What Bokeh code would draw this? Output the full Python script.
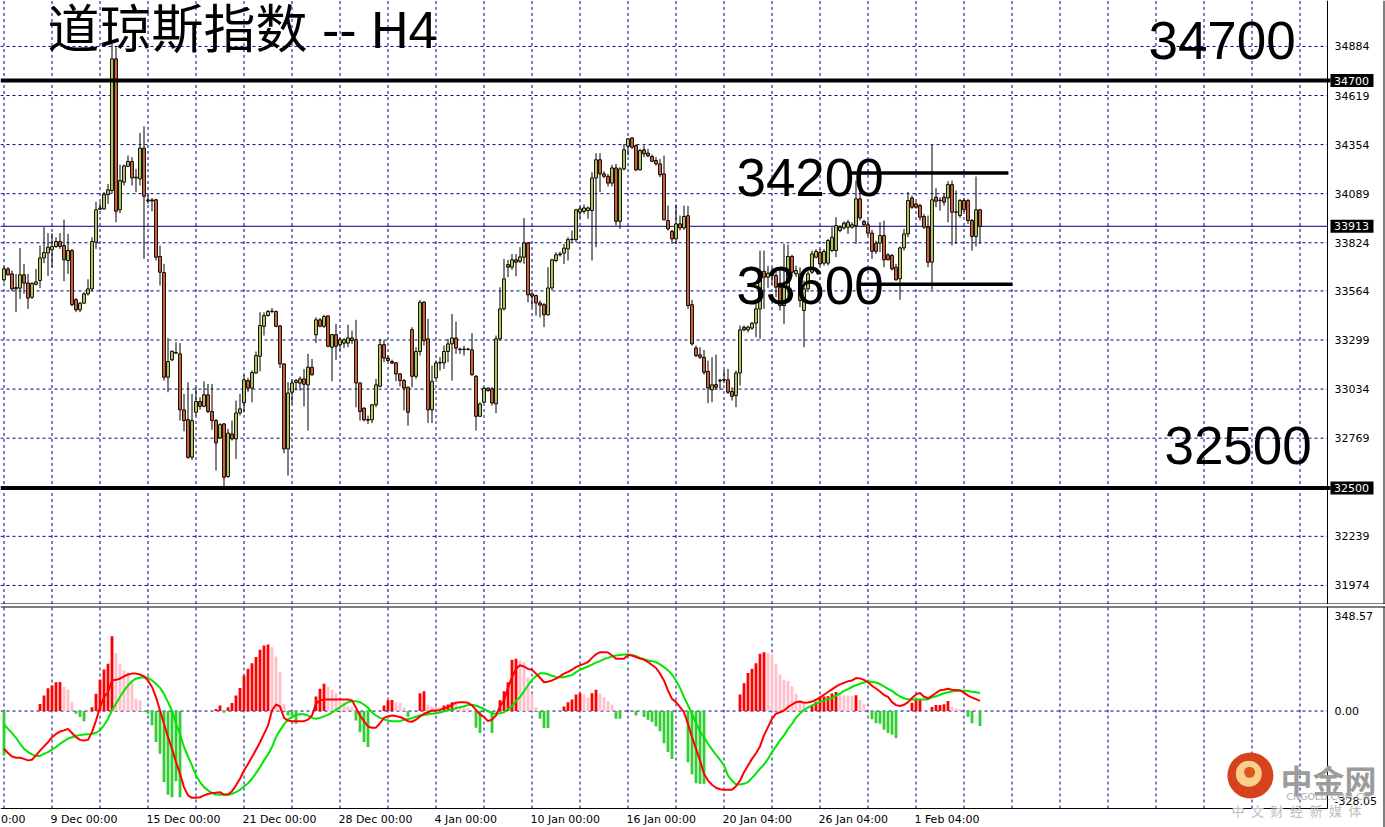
from bokeh.plotting import figure
from bokeh.layouts import column
from bokeh.models import Range1d, Label, ColumnDataSource
from bokeh.core.properties import value
from bokeh.embed import file_html
from bokeh.resources import INLINE

# ---------------- data (H4 bars, Dow Jones) ----------------
opens = [
    33624, 33683, 33656, 33575, 33579, 33651, 33607, 33530, 33600, 33620,
    33742, 33769, 33786, 33804, 33831, 33809, 33728, 33782, 33517, 33462,
    33498, 33548, 33575, 33827, 34005, 34007, 34084, 34106, 34817, 34002,
    34151, 34237, 34263, 34174, 34169, 34335, 34050, 34055, 34056, 33750,
    33663, 33098, 33192, 33228, 33224, 32922, 32869, 32666, 32909, 32967,
    32941, 33003, 32913, 32864, 32770, 32846, 32562, 32792, 32765, 32905,
    32960, 33080, 33039, 33121, 33211, 33373, 33431, 33453, 33453, 33375,
    33170, 32711, 33017, 33070, 33066, 33089, 33057, 33152, 33327, 33408,
    33373, 33429, 33260, 33328, 33273, 33282, 33282, 33310, 33300, 33067,
    32931, 32870, 32868, 32949, 33049, 33274, 33201, 33183, 33176, 33116,
    33080, 33044, 33355, 33103, 33237, 33503, 33305, 32922, 33094, 33175,
    33175, 33237, 33278, 33310, 33250, 33247, 33250, 33246, 33103, 32887,
    32963, 33039, 33035, 32954, 33305, 33467, 33706, 33692, 33732, 33724,
    33746, 33823, 33548, 33539, 33499, 33490, 33435, 33580, 33728, 33759,
    33768, 33791, 33841, 33841, 33989, 33993, 33998, 33998, 34174, 34272,
    34196, 34183, 34146, 34228, 33940, 34223, 34345, 34390, 34349, 34218,
    34326, 34308, 34290, 34268, 34250, 34196, 33944, 33886, 33845, 33926,
    33904, 33970, 33490, 33256, 33219, 33206, 33130, 33030, 33058, 33078,
    33082, 33084, 33021, 32999, 33121, 33368, 33354, 33363, 33390, 33467,
    33670, 33638, 33660, 33647, 33584, 33485, 33584, 33750, 33656, 33656,
    33458, 33575, 33665, 33746, 33773, 33714, 33714, 33782, 33782, 33890,
    33904, 33908, 33908, 33917, 34061, 33939, 33921, 33876, 33822, 33822,
    33863, 33759, 33755, 33692, 33629, 33796, 33872, 34066, 34034, 34025,
    33966, 33908, 33719, 34070, 34052, 34070, 34066, 34138, 33989, 33971,
    34052, 34052, 33944, 33858, 34002,
]
highs = [
    33696, 33692, 33674, 33656, 33796, 33710, 33656, 33611, 33683, 33809,
    33908, 33876, 33876, 33854, 33876, 33949, 33872, 33790, 33525, 33503,
    33557, 33627, 33854, 34045, 34043, 34097, 34142, 34900, 34880, 34246,
    34246, 34295, 34286, 34223, 34417, 34452, 34084, 34066, 34061, 33809,
    33710, 33309, 33242, 33287, 33282, 33008, 33071, 33008, 33044, 32990,
    33076, 33062, 33062, 32873, 32850, 32850, 32819, 32864, 32972, 33008,
    33110, 33094, 33134, 33237, 33449, 33449, 33462, 33472, 33458, 33380,
    33174, 33071, 33084, 33089, 33102, 33143, 33224, 33197, 33422, 33417,
    33435, 33431, 33332, 33386, 33309, 33309, 33382, 33350, 33408, 33070,
    32936, 32891, 32954, 33089, 33305, 33300, 33215, 33193, 33180, 33120,
    33089, 33048, 33368, 33260, 33515, 33510, 33413, 33161, 33188, 33206,
    33269, 33305, 33440, 33399, 33258, 33269, 33256, 33336, 33110, 32963,
    33044, 33044, 33044, 33323, 33584, 33737, 33732, 33764, 33764, 33800,
    33958, 33827, 33557, 33544, 33512, 33498, 33692, 33737, 33773, 33775,
    33818, 33854, 33890, 34007, 34020, 34030, 34020, 34205, 34308, 34308,
    34210, 34196, 34245, 34250, 34232, 34358, 34390, 34394, 34354, 34331,
    34349, 34331, 34300, 34286, 34277, 34295, 34025, 33894, 34030, 33971,
    34025, 34023, 33516, 33269, 33260, 33246, 33188, 33206, 33220, 33089,
    33138, 33143, 33044, 33134, 33377, 33377, 33377, 33395, 33494, 33782,
    33782, 33700, 33690, 33683, 33692, 33818, 33814, 33760, 33700, 33692,
    33620, 33670, 33782, 33790, 33791, 33790, 33845, 33908, 33962, 33917,
    33940, 33948, 33935, 34160, 34106, 33948, 33944, 33894, 33836, 33935,
    33944, 33768, 33764, 33710, 33804, 33899, 34097, 34079, 34043, 34034,
    33980, 33971, 34354, 34120, 34070, 34090, 34156, 34160, 34106, 34061,
    34066, 34061, 33953, 34182, 34007,
]
lows = [
    33611, 33647, 33562, 33449, 33521, 33548, 33467, 33521, 33593, 33580,
    33714, 33645, 33692, 33796, 33791, 33616, 33656, 33481, 33449, 33449,
    33494, 33539, 33562, 33791, 34000, 34003, 34034, 34088, 33935, 33984,
    34133, 34232, 34133, 34097, 34133, 33737, 34034, 33994, 33728, 33593,
    33080, 33017, 33184, 33224, 32864, 32806, 32657, 32652, 32891, 32923,
    32936, 32904, 32814, 32594, 32765, 32504, 32554, 32756, 32657, 32891,
    32909, 33017, 32963, 33116, 33130, 33323, 33426, 33444, 33368, 33148,
    32688, 32567, 32954, 33026, 33026, 32940, 32810, 33107, 33282, 33368,
    33364, 33260, 33076, 33192, 33242, 33255, 33260, 33278, 32936, 32864,
    32860, 32846, 32850, 32936, 33044, 33179, 33183, 33170, 33076, 33048,
    32918, 32837, 33044, 33089, 33215, 33269, 32850, 32850, 33089, 33134,
    33143, 33179, 33080, 33224, 33224, 33215, 33242, 33107, 32810, 32886,
    32959, 33020, 32945, 32904, 33296, 33458, 33638, 33678, 33643, 33714,
    33710, 33503, 33476, 33431, 33422, 33368, 33431, 33566, 33719, 33750,
    33710, 33728, 33827, 33827, 33958, 33980, 33953, 33728, 33800, 34097,
    34173, 34128, 34128, 33917, 33899, 34214, 34295, 34331, 34210, 34214,
    34286, 34286, 34259, 34241, 34178, 33944, 33890, 33818, 33818, 33890,
    33894, 33467, 33269, 33206, 33197, 33112, 32958, 32963, 33030, 33030,
    33066, 33008, 32972, 32936, 33053, 33346, 33340, 33354, 33314, 33305,
    33467, 33580, 33600, 33530, 33458, 33386, 33530, 33640, 33640, 33476,
    33260, 33560, 33656, 33740, 33701, 33700, 33701, 33773, 33746, 33881,
    33895, 33872, 33900, 33818, 33944, 33912, 33863, 33737, 33764, 33773,
    33692, 33728, 33674, 33620, 33516, 33782, 33854, 34007, 34007, 33944,
    33899, 33692, 33571, 34016, 33998, 34025, 33935, 33809, 33818, 33958,
    33990, 33926, 33782, 33804, 33818,
]
closes = [
    33683, 33651, 33575, 33582, 33651, 33606, 33525, 33604, 33613, 33742,
    33771, 33800, 33804, 33831, 33804, 33732, 33782, 33490, 33462, 33498,
    33548, 33575, 33831, 34002, 34011, 34084, 34110, 34817, 33994, 34160,
    34239, 34263, 34174, 34178, 34335, 34075, 34055, 34050, 33746, 33665,
    33098, 33183, 33238, 33232, 32922, 32864, 32666, 32864, 32967, 32941,
    33003, 32913, 32864, 32743, 32842, 32558, 32796, 32765, 32905, 32927,
    33084, 33040, 33123, 33215, 33377, 33431, 33453, 33455, 33373, 33170,
    32711, 33013, 33067, 33080, 33089, 33060, 33152, 33111, 33408, 33373,
    33426, 33265, 33328, 33265, 33300, 33300, 33310, 33296, 33067, 32913,
    32868, 32866, 32949, 33057, 33274, 33201, 33188, 33174, 33116, 33080,
    33040, 32909, 33103, 33237, 33503, 33296, 32922, 33076, 33175, 33178,
    33237, 33278, 33310, 33255, 33247, 33250, 33248, 33111, 32887, 32954,
    33039, 33026, 32959, 33305, 33467, 33629, 33692, 33732, 33719, 33748,
    33823, 33543, 33536, 33499, 33487, 33435, 33580, 33732, 33759, 33764,
    33795, 33841, 33843, 34002, 34007, 34012, 34012, 34174, 34272, 34196,
    34183, 34146, 34228, 33940, 34223, 34326, 34385, 34340, 34218, 34322,
    34304, 34293, 34264, 34250, 34191, 33948, 33899, 33845, 33926, 33904,
    33966, 33485, 33278, 33215, 33206, 33125, 33040, 33057, 33044, 33082,
    33086, 33017, 32995, 33121, 33354, 33354, 33368, 33390, 33467, 33670,
    33638, 33660, 33650, 33584, 33485, 33584, 33750, 33665, 33674, 33512,
    33575, 33656, 33764, 33777, 33710, 33777, 33836, 33854, 33917, 33908,
    33930, 33935, 33921, 34061, 33958, 33921, 33876, 33778, 33778, 33863,
    33732, 33732, 33683, 33624, 33796, 33872, 34052, 34016, 34016, 33962,
    33908, 33719, 34056, 34048, 34054, 34043, 34138, 33989, 33991, 34052,
    34002, 33944, 33858, 34002, 33912,
]

# MACD-style indicator (lower panel)
macd_hist = [
    -150, 0, 0, 0, 0, 0, 0, 0, 0, 24,
    52, 77, 86, 97, 98, 81, 72, 30, -9, -20,
    -34, 0, 13, 58, 105, 140, 159, 252, 195, 159,
    137, 131, 103, 41, 36, -2, -9, -48, -104, -144,
    -239, -282, -290, -236, -290, 0, 0, 0, 0, 0,
    0, 0, 0, 7, 19, -6, 13, 27, 52, 78,
    120, 142, 161, 182, 206, 221, 224, 215, 184, 133,
    24, -15, -15, -43, 0, 0, 0, 0, 49, 75,
    92, 81, 72, 60, 41, 30, 15, 13, -32, -71,
    -104, -121, 0, 0, 0, 19, 36, 37, 30, 28,
    11, -19, 0, 0, 60, 67, 22, 15, 14, 13,
    19, 22, 30, 24, 15, 13, 11, 0, -56, -74,
    0, 0, -74, 0, 36, 67, 97, 173, 176, 170,
    165, 114, 58, 13, -26, -57, -57, 0, 0, 0,
    15, 30, 39, 56, 60, 56, 45, 60, 72, 58,
    47, 33, 22, -26, -26, 0, 2, 0, -15, 0,
    -20, -29, -37, -52, -68, -108, -138, -161, 0, 0,
    0, -172, -213, -243, -245, -245, 0, 0, 0, 0,
    0, 0, 0, 0, 56, 94, 128, 142, 161, 193,
    198, 195, 190, 157, 123, 105, 101, 83, 58, 36,
    25, 0, 17, 31, 48, 49, 50, 59, 64, 63,
    53, 52, 50, 53, 37, 25, 0, -28, -41, -43,
    -63, -74, -80, -91, 0, 0, 0, 28, 37, 37,
    0, 0, 14, 20, 20, 23, 34, 14, 9, 6,
    0, -19, -41, 0, -50,
]
macd_fast = [
    -127, -141, -153, -157, -157, -161, -166, -164, -149, -133,
    -119, -105, -88, -77, -69, -65, -60, -74, -88, -97,
    -99, -97, -71, -32, 13, 47, 64, 103, 105, 109,
    117, 123, 126, 126, 123, 117, 103, 81, 47, 2,
    -43, -88, -127, -172, -211, -256, -284, -292, -292, -290,
    -284, -279, -276, -275, -273, -281, -281, -270, -250, -228,
    -200, -178, -155, -130, -105, -77, -49, 2, 22, 16,
    -23, -32, -34, -34, -34, -34, -29, -15, 25, 36,
    39, 39, 39, 39, 39, 39, 39, 36, 11, -15,
    -34, -52, -56, -56, -41, -23, -18, -15, -17, -20,
    -26, -34, -36, -29, -18, -9, -4, 2, 2, 4,
    9, 13, 22, 28, 30, 30, 28, 19, 4, -11,
    -20, -34, -29, -15, 16, 36, 78, 114, 142, 154,
    150, 142, 139, 126, 112, 97, 99, 103, 109, 117,
    126, 132, 139, 148, 154, 159, 165, 179, 191, 198,
    198, 197, 187, 176, 176, 176, 189, 187, 182, 177,
    173, 165, 155, 145, 126, 103, 69, 41, 30, 13,
    -4, -43, -88, -127, -166, -211, -234, -248, -258, -263,
    -265, -265, -265, -253, -234, -206, -183, -161, -142, -119,
    -82, -54, -26, -9, -4, 2, 13, 22, 30, 32,
    28, 29, 32, 38, 46, 55, 64, 73, 82, 90,
    95, 100, 103, 111, 110, 105, 97, 85, 76, 66,
    54, 48, 30, 20, 17, 21, 30, 44, 56, 61,
    48, 43, 51, 61, 70, 72, 75, 72, 70, 70,
    62, 52, 45, 40, 34,
]
macd_signal = [
    -45, -60, -74, -90, -110, -127, -138, -146, -151, -151,
    -144, -138, -130, -121, -110, -101, -93, -88, -83, -81,
    -79, -78, -77, -73, -65, -48, -26, 2, 25, 47,
    69, 86, 101, 109, 113, 114, 112, 103, 92, 78,
    58, 30, 2, -43, -77, -121, -153, -183, -217, -239,
    -256, -267, -276, -281, -282, -282, -282, -279, -273, -265,
    -254, -243, -228, -209, -189, -166, -146, -121, -88, -65,
    -45, -29, -20, -13, -11, -11, -15, -23, -26, -23,
    -18, -13, -5, 4, 13, 22, 30, 33, 33, 30,
    22, 11, -4, -15, -23, -28, -32, -34, -34, -34,
    -29, -27, -24, -19, -15, -13, -11, -9, -7, -5,
    -1, 2, 5, 10, 13, 16, 20, 21, 18, 13,
    7, 0, -7, -9, -7, -4, 7, 16, 34, 47,
    67, 86, 105, 117, 127, 127, 124, 119, 115, 114,
    114, 118, 121, 131, 139, 145, 150, 156, 163, 168,
    175, 179, 184, 187, 189, 190, 190, 188, 185, 179,
    175, 170, 168, 165, 157, 148, 137, 123, 103, 78,
    47, 19, -9, -41, -68, -88, -110, -129, -147, -164,
    -183, -217, -234, -247, -247, -245, -239, -225, -211, -194,
    -180, -161, -138, -119, -99, -82, -60, -43, -22, -8,
    4, 12, 19, 25, 31, 35, 40, 44, 52, 59,
    68, 74, 81, 87, 92, 96, 100, 98, 96, 91,
    83, 75, 68, 58, 49, 43, 40, 39, 39, 39,
    39, 40, 46, 50, 55, 60, 63, 66, 68, 68,
    68, 68, 65, 63, 61,
]

# axis / tick data
price_grid = [31974, 32239, 32504, 32769, 33034, 33299, 33564, 33824, 34089, 34354, 34619, 34884]
price_labels = [31974, 32239, 32769, 33034, 33299, 33564, 33824, 34089, 34354, 34619, 34884]
marked_prices = [34700, 32500, 33913]
grid_bars = list(range(0, 336, 12))
date_bars = [12, 36, 60, 84, 108, 132, 156, 180, 204, 228]
date_texts = ["9 Dec 00:00", "15 Dec 00:00", "21 Dec 00:00", "28 Dec 00:00",
              "4 Jan 00:00", "10 Jan 00:00", "16 Jan 00:00", "20 Jan 04:00", "26 Jan 04:00",
              "1 Feb 04:00"]
first_date_tail = "0:00"          # tail of the cut-off label at the left edge
macd_top, macd_bottom = 348.57, -328.05
macd_labels = ["348.57", "0.00", "-328.05"]

# drawn support / resistance levels
full_levels = [34700, 32500]
box_levels = [34200, 33600]
box_start = [211.6, 213.6]
box_end = [251.1, 252.1]
level_texts = ["34700", "34200", "33600", "32500"]
level_text_x = [286.1, 183.1, 183.1, 290.1]
level_text_y = [34916, 34176, 33593, 32727]

# ---------------- geometry ----------------
GRID = "#000080"
BULL = "#c4da5e"
BEAR = "#e66a3a"
FONT = "DejaVu Sans"
X0 = -0.875                    # left edge of chart (bar units, 4 px per bar)
AXIS_X = 330.875               # price-scale line
RIGHT_X = 345.0                # window border
X1 = X0 + 1385 / 4.0
PY_TOP, PY_BOT = 35132, 31871  # main panel price range (604 px)
PAN_BOT = 31873.7              # main panel bottom border
M_TOP, M_BOT = 358.67, -391.95 # lower panel value range (223 px)

N = len(opens)
xs = list(range(N))
src = ColumnDataSource(dict(
    x=xs, high=highs, low=lows,
    top=[max(o, c) for o, c in zip(opens, closes)],
    bottom=[min(o, c) for o, c in zip(opens, closes)],
    color=[BULL if c >= o else BEAR for o, c in zip(opens, closes)],
))

xr = Range1d(X0, X1)

# ---------------- main panel ----------------
p1 = figure(width=1385, height=604, x_range=xr, y_range=Range1d(PY_BOT, PY_TOP),
            x_axis_location=None, y_axis_location=None,
            toolbar_location=None, output_backend="svg", min_border=0)
p1.outline_line_color = None
p1.background_fill_color = "white"
p1.border_fill_color = "white"
p1.xgrid.visible = False
p1.ygrid.visible = False

# grid
p1.segment(x0=grid_bars, y0=[PAN_BOT] * len(grid_bars), x1=grid_bars, y1=[PY_TOP] * len(grid_bars),
           line_color=GRID, line_width=1, line_dash="3 3")
p1.segment(x0=[X0] * len(price_grid), y0=price_grid, x1=[AXIS_X] * len(price_grid), y1=price_grid,
           line_color=GRID, line_width=1, line_dash="3 3")
p1.segment(x0=[X0], y0=[33913], x1=[AXIS_X], y1=[33913], line_color=GRID, line_width=1)

# candles
p1.segment(x0="x", y0="low", x1="x", y1="high", source=src, line_color="black", line_width=1)
p1.vbar(x="x", width=0.7, top="top", bottom="bottom", source=src,
        fill_color="color", line_color="black", line_width=1)

# levels
p1.segment(x0=[X0] * 2, y0=full_levels, x1=[AXIS_X + 0.75] * 2, y1=full_levels,
           line_color="black", line_width=4)
p1.segment(x0=box_start, y0=box_levels, x1=box_end, y1=box_levels, line_color="black", line_width=3.5)
for t, x, y in zip(level_texts, level_text_x, level_text_y):
    p1.add_layout(Label(x=x, y=y, text=t, text_font="Liberation Sans", text_font_size="53px",
                        text_baseline="middle", text_align="left", text_color="black"))

p1.add_layout(Label(x=47, y=34975, x_units="screen", y_units="data", text="道琼斯指数 -- H4",
                    text_font="Liberation Sans, Noto Sans CJK SC", text_font_size="52px",
                    text_baseline="middle", text_color="black"))

# price scale
p1.segment(x0=[AXIS_X], y0=[PAN_BOT], x1=[AXIS_X], y1=[PY_TOP], line_color="black", line_width=1)
p1.segment(x0=[RIGHT_X], y0=[PY_BOT], x1=[RIGHT_X], y1=[PY_TOP], line_color="black", line_width=1)
p1.segment(x0=[X0], y0=[PAN_BOT], x1=[X1], y1=[PAN_BOT], line_color="black", line_width=1)
p1.text(x=[AXIS_X + 1.75] * len(price_labels), y=price_labels, text=[str(v) for v in price_labels],
        text_font=value(FONT), text_font_size="11px", text_color="black",
        text_align="left", text_baseline="middle")
p1.rect(x=[AXIS_X + 0.75 + 43 / 8.0] * 3, y=marked_prices, width=43, height=13,
        width_units="screen", height_units="screen", fill_color="black", line_color=None)
p1.text(x=[AXIS_X + 1.6] * 3, y=marked_prices, text=[str(v) for v in marked_prices],
        text_font=value(FONT), text_font_size="11px", text_color="white",
        text_align="left", text_baseline="middle")

# ---------------- lower panel ----------------
hcol = []
prev = 0
for v in macd_hist:
    if v < 0:
        hcol.append("#32cd32")
    elif v >= prev:
        hcol.append("#ff0000")
    else:
        hcol.append("#ffc0cb")
    prev = v
hsrc = ColumnDataSource(dict(x=xs, hist=macd_hist, color=hcol))

p2 = figure(width=1385, height=223, x_range=xr, y_range=Range1d(M_BOT, M_TOP),
            x_axis_location=None, y_axis_location=None,
            toolbar_location=None, output_backend="svg", min_border=0)
p2.outline_line_color = None
p2.xgrid.visible = False
p2.ygrid.visible = False
p2.background_fill_color = "white"
p2.border_fill_color = "white"

p2.segment(x0=grid_bars, y0=[macd_bottom] * len(grid_bars), x1=grid_bars, y1=[macd_top] * len(grid_bars),
           line_color=GRID, line_width=1, line_dash="3 3")
p2.segment(x0=[X0], y0=[0], x1=[AXIS_X], y1=[0], line_color=GRID, line_width=1, line_dash="3 3")

p2.vbar(x="x", width=0.7, top="hist", bottom=0, source=hsrc, fill_color="color", line_color=None)
p2.line(xs, macd_signal, line_color="#00e600", line_width=2)
p2.line(xs, macd_fast, line_color="#ff0000", line_width=2)

# borders and value scale
p2.segment(x0=[X0, X0], y0=[350.25, macd_bottom], x1=[X1, AXIS_X], y1=[350.25, macd_bottom],
           line_color="black", line_width=1)
p2.segment(x0=[AXIS_X, RIGHT_X], y0=[macd_bottom, M_BOT], x1=[AXIS_X, RIGHT_X], y1=[350.25, 350.25],
           line_color="black", line_width=1)
p2.text(x=[AXIS_X + 1.75] * 3, y=[321.6, 0, -301.1], text=macd_labels,
        text_font=value(FONT), text_font_size="11px", text_color="black",
        text_align="left", text_baseline="middle")

# time labels (left aligned at their grid lines)
p2.text(x=[b - 0.4 for b in date_bars], y=[-365] * len(date_bars), text=date_texts,
        text_font=value(FONT), text_font_size="11px", text_color="black",
        text_align="left", text_baseline="middle")
p2.text(x=[X0 + 0.1], y=[-365], text=[first_date_tail],
        text_font=value(FONT), text_font_size="11px", text_color="black",
        text_align="left", text_baseline="middle")

# watermark
p2.scatter(x=[311.6], y=[-217], size=46, fill_color="#d6421b", line_color=None)
p2.scatter(x=[311.2], y=[-211], size=26, fill_color="#f7d08a", line_color=None)
p2.scatter(x=[311.4], y=[-206], size=11, fill_color="#e0561f", line_color=None)
p2.text(x=[319.1], y=[-230], text=["中金网"], text_font=value("Noto Sans CJK SC"),
        text_font_size="32px", text_font_style="bold", text_color="#9c9c9c",
        text_align="left", text_baseline="middle")
p2.text(x=[320.6], y=[-288], text=["CNGOLD.COM.CN"], text_font=value(FONT),
        text_font_size="9.5px", text_color="#a8a8a8", text_align="left", text_baseline="middle")
p2.text(x=[306.9], y=[-336], text=["中\u2002文\u2002财\u2002经\u2002新\u2002媒\u2002体"],
        text_font=value("Noto Sans CJK SC"), text_font_size="13px", text_color="#bcbcbc",
        text_align="left", text_baseline="middle")

layout = column(p1, p2, spacing=0)
open("out.html", "w").write(file_html(layout, INLINE))
